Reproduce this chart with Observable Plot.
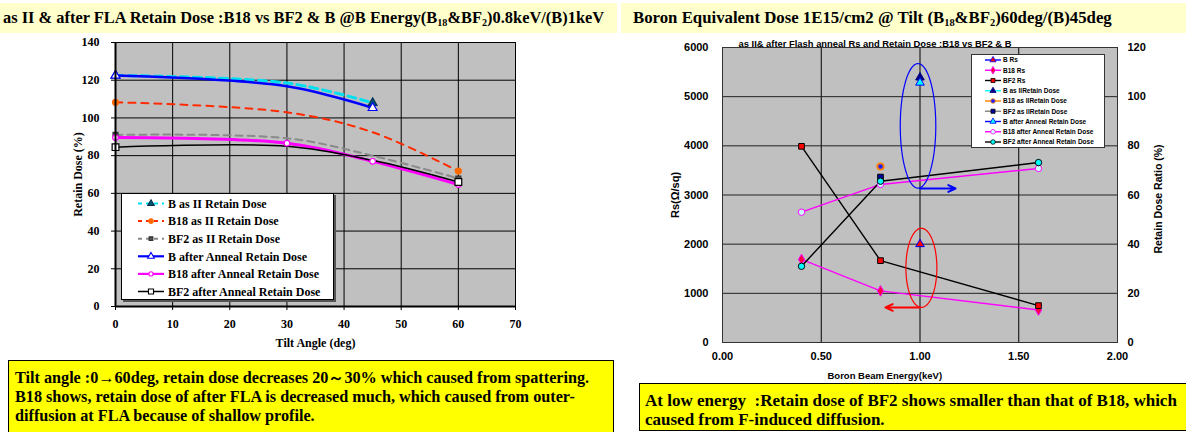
<!DOCTYPE html>
<html><head><meta charset="utf-8">
<script src="https://cdn.jsdelivr.net/npm/d3@7"></script>
<script src="https://cdn.jsdelivr.net/npm/@observablehq/plot@0.6"></script>
<style>
body{margin:0;background:#fff;}
#page{position:relative;width:1186px;height:432px;overflow:hidden;background:#fff;font-family:"Liberation Serif",serif;}
.abs{position:absolute;}
.banner{position:absolute;background:#ffffcc;font-weight:bold;white-space:nowrap;color:#000;}
.banner sub{font-size:62%;vertical-align:-3px;line-height:0;}
.box{position:absolute;background:#ffff00;border:1px solid #000;font-weight:bold;white-space:nowrap;color:#000;box-sizing:border-box;}
</style></head><body><div id="page"></div>
<script>
// ---------------- LEFT CHART DATA ----------------
const tiltAngles = [0, 30, 45, 60];
const tiltTicks = [0, 10, 20, 30, 40, 50, 60, 70];
const doseTicks = [0, 20, 40, 60, 80, 100, 120, 140];
const leftNames = ["B as II Retain Dose", "B18 as II Retain Dose", "BF2 as II Retain Dose",
  "B after Anneal Retain Dose", "B18 after Anneal Retain Dose", "BF2 after Anneal Retain Dose"];
const bAsII    = [122.5, 118.5, 108.0];
const b18AsII  = [108.3, 103.0, 92.4, 71.8];
const bf2AsII  = [91.0, 89.2, 80.0, 67.9];
const bAfter   = [122.5, 116.8, 105.3];
const b18After = [89.6, 86.6, 77.0, 64.7];
const bf2After = [84.5, 85.0, 77.5, 66.0];
const leftValues = [bAsII, b18AsII, bf2AsII, bAfter, b18After, bf2After];

// ---------------- RIGHT CHART DATA ----------------
const energyTicks = [0, 0.5, 1.0, 1.5, 2.0];
const rsTicks = [0, 1000, 2000, 3000, 4000, 5000, 6000];
const ratioTicks = [0, 20, 40, 60, 80, 100, 120];
const energyB = [1.0];
const energyCluster = [0.4, 0.8, 1.6];
const energyAsII = [0.8];
const rsB = [2000];
const rsB18 = [1690, 1050, 660];
const rsBF2 = [3990, 1665, 750];
const retAsIIB = [107.8];
const retAsIIB18 = [71.6];
const retAsIIBF2 = [67.3];
const retAfterB = [105.7];
const retAfterB18 = [53.0, 64.3, 70.8];
const retAfterBF2 = [31.0, 65.6, 73.2];
const rightNames = ["B Rs", "B18 Rs", "BF2 Rs", "B as IIRetain Dose", "B18 as IIRetain Dose", "BF2 as IIRetain Dose",
  "B after Anneal Retain Dose", "B18 after Anneal Retain Dose", "BF2 after Anneal Retain Dose"];
const rightX = [energyB, energyCluster, energyCluster, energyB, energyAsII, energyAsII, energyB, energyCluster, energyCluster];
const rightY = [rsB, rsB18, rsBF2, retAsIIB, retAsIIB18, retAsIIBF2, retAfterB, retAfterB18, retAfterBF2];
const rightAxis = ["rs", "rs", "rs", "ratio", "ratio", "ratio", "ratio", "ratio", "ratio"];
// annotations (data units): ellipses and arrows
const ellipseCx = [0.99, 1.007];
const ellipseCy = [4406, 1518];
const ellipseRx = [0.09, 0.0785];
const ellipseRy = [1268, 805];
const arrowX1 = [1.0, 1.0];
const arrowX2 = [1.18, 0.825];
const arrowY = [3132, 713];

// ---------------- STYLES ----------------
const leftStyles = [
  {line: "#00e0f0", width: 3, dash: "8,5", symbol: "triangle", fill: "#005a70", stroke: "#003050", r: 3.2, all: false},
  {line: "#ff2a00", width: 2, dash: "7,6", symbol: "circle", fill: "#ff6a00", stroke: "#ff6a00", r: 3, all: false},
  {line: "#8a8a8a", width: 2, dash: "7,5", symbol: "square", fill: "#505050", stroke: "#303030", r: 2.8, all: false},
  {line: "#0000ff", width: 2.5, dash: null, symbol: "triangle", fill: "#ffffff", stroke: "#0000ff", r: 3.3, all: false},
  {line: "#ff00ff", width: 3, dash: null, symbol: "circle", fill: "#ffffff", stroke: "#ff00ff", r: 2.8, all: true},
  {line: "#000000", width: 1.5, dash: null, symbol: "square", fill: "#ffffff", stroke: "#000000", r: 3.8, all: false}
];
const rightStyles = [
  {line: "#0000ff", symbol: "triangle", fill: "#ff0000", stroke: "#0000ff"},
  {line: "#ff00ff", symbol: "diamond", fill: "#ff0040", stroke: "#ff00ff"},
  {line: "#000000", symbol: "square", fill: "#ff0000", stroke: "#000000"},
  {line: "#00ffff", symbol: "triangle", fill: "#000080", stroke: "#000080"},
  {line: "#ff8000", symbol: "circle", fill: "#2020ff", stroke: "#ff8000"},
  {line: "#808080", symbol: "square", fill: "#0000a0", stroke: "#000000"},
  {line: "#0000ff", symbol: "triangle", fill: "#00ffff", stroke: "#0000ff"},
  {line: "#ff00ff", symbol: "circle", fill: "#ccffff", stroke: "#ff00ff"},
  {line: "#000000", symbol: "circle", fill: "#00ffff", stroke: "#000000"}
];
const ellipseColors = ["#0000ff", "#ff0000"];

const page = d3.select("#page");

// ---------------- LEFT PLOT ----------------
const leftMarks = [
  Plot.frame({fill: "#c0c0c0", stroke: "#8a8a8a"}),
  Plot.gridX(tiltTicks, {stroke: "#000", strokeOpacity: 1}),
  Plot.gridY(doseTicks, {stroke: "#000", strokeOpacity: 1})
];
const leftRows = leftValues.map(vals => vals.map((v, i) => ({x: tiltAngles[i], y: v})));
leftRows.forEach((rows, s) => {
  const st = leftStyles[s];
  leftMarks.push(Plot.line(rows, {x: "x", y: "y", stroke: st.line, strokeWidth: st.width,
    strokeDasharray: st.dash || undefined, curve: "catmull-rom"}));
});
leftRows.forEach((rows, s) => {
  const st = leftStyles[s];
  const pts = st.all ? rows : [rows[0], rows[rows.length - 1]];
  leftMarks.push(Plot.dot(pts, {x: "x", y: "y", symbol: st.symbol, r: st.r, fill: st.fill, stroke: st.stroke, strokeWidth: 1.2}));
});
leftMarks.push(
  Plot.ruleX([0], {stroke: "#000", strokeWidth: 2}),
  Plot.ruleY([0], {stroke: "#000", strokeWidth: 2}),
  Plot.axisX({ticks: tiltTicks, tickSize: 4, tickPadding: 9, label: "Tilt Angle (deg)", labelAnchor: "center", labelArrow: "none", labelOffset: 40}),
  Plot.axisY({ticks: doseTicks, tickSize: 4, tickPadding: 12, label: "Retain Dose (%)", labelAnchor: "center", labelArrow: "none", labelOffset: 42})
);
const leftPlot = Plot.plot({
  width: 560, height: 360,
  marginLeft: 115, marginRight: 45, marginTop: 42, marginBottom: 54,
  style: {background: "transparent", fontFamily: "'Liberation Serif', serif", fontWeight: "bold", fontSize: "12px", color: "#000"},
  x: {domain: [0, 70]},
  y: {domain: [0, 140]},
  marks: leftMarks
});
page.append("div").attr("class", "abs").style("left", "0px").style("top", "0px").node().appendChild(leftPlot);

// ---------------- RIGHT PLOT ----------------
const k = rsTicks[rsTicks.length - 1] / ratioTicks[ratioTicks.length - 1];
const rightMarks = [
  Plot.frame({fill: "#c0c0c0"}),
  Plot.gridX(energyTicks.slice(1, -1), {stroke: "#000", strokeOpacity: 1}),
  Plot.gridY(rsTicks.slice(1, -1), {stroke: "#222", strokeOpacity: 1})
];
const rightRows = rightY.map((vals, s) => vals.map((v, i) => ({x: rightX[s][i], y: rightAxis[s] === "rs" ? v : v * k})));
rightRows.forEach((rows, s) => {
  if (rows.length > 1) rightMarks.push(Plot.line(rows, {x: "x", y: "y", stroke: rightStyles[s].line, strokeWidth: 1.4}));
});
// ellipses & arrows
ellipseCx.forEach((cx, i) => {
  const pts = d3.range(0, 73).map(j => {
    const t = j / 72 * 2 * Math.PI;
    return {x: cx + ellipseRx[i] * Math.cos(t), y: ellipseCy[i] + ellipseRy[i] * Math.sin(t)};
  });
  rightMarks.push(Plot.line(pts, {x: "x", y: "y", stroke: ellipseColors[i], strokeWidth: 1.2}));
});
rightMarks.push(Plot.arrow(arrowX1.map((x1, i) => ({x1, x2: arrowX2[i], y: arrowY[i], c: ellipseColors[i]})),
  {x1: "x1", x2: "x2", y1: "y", y2: "y", stroke: "c", strokeWidth: 2, headLength: 6, headAngle: 50}));
rightRows.forEach((rows, s) => {
  const st = rightStyles[s];
  rightMarks.push(Plot.dot(rows, {x: "x", y: "y", symbol: st.symbol, r: 3.2, fill: st.fill, stroke: st.stroke, strokeWidth: s === 4 ? 1.8 : 1}));
});
rightMarks.push(
  Plot.frame({stroke: "#333"}),
  Plot.axisX({ticks: energyTicks, tickFormat: d3.format(".2f"), tickSize: 0, tickPadding: 10, label: null}),
  Plot.axisY({ticks: rsTicks, tickFormat: d3.format("d"), tickSize: 0, tickPadding: 14, label: null}),
  Plot.axisY({anchor: "right", ticks: ratioTicks.map(v => v * k), tickFormat: v => d3.format("d")(v / k), tickSize: 0, tickPadding: 10, label: null}),
  Plot.text(["as II& after Flash anneal Rs and Retain Dose :B18 vs BF2 & B"], {frameAnchor: "top-left", dx: 16, dy: -7, textAnchor: "start", fontSize: 9.4}),
  Plot.text(["Boron Beam Energy(keV)"], {frameAnchor: "bottom-left", dx: 105, dy: 36, textAnchor: "start", fontSize: 9.5}),
  Plot.text(["Rs(Ω/sq)"], {frameAnchor: "left", dx: -47, rotate: -90, textAnchor: "middle", fontSize: 11}),
  Plot.text(["Retain Dose Ratio (%)"], {frameAnchor: "right", dx: 41, dy: 4, rotate: -90, textAnchor: "middle", fontSize: 10.5})
);
const rightPlot = Plot.plot({
  width: 586, height: 392,
  marginLeft: 122, marginRight: 69, marginTop: 47, marginBottom: 50,
  style: {background: "transparent", fontFamily: "'Liberation Sans', sans-serif", fontWeight: "bold", fontSize: "11px", color: "#000"},
  x: {domain: [0, 2]},
  y: {domain: [0, 6000]},
  marks: rightMarks
});
page.append("div").attr("class", "abs").style("left", "600px").style("top", "0px").node().appendChild(rightPlot);

// ---------------- LEGENDS ----------------
function symbolPath(name, r) {
  const t = {triangle: d3.symbolTriangle, circle: d3.symbolCircle, square: d3.symbolSquare, diamond: d3.symbolDiamond}[name];
  return d3.symbol(t, Math.PI * r * r)();
}
{
  const box = page.append("div").attr("class", "abs")
    .style("left", "121px").style("top", "193px").style("width", "211px").style("height", "105px")
    .style("background", "#fff").style("border", "1px solid #000").style("box-shadow", "2px 2px 0 #555");
  const svg = box.append("svg").attr("width", 211).attr("height", 105);
  leftNames.forEach((n, i) => {
    const st = leftStyles[i], y = 9.5 + i * 17.6;
    svg.append("line").attr("x1", 16).attr("x2", 42).attr("y1", y).attr("y2", y)
      .attr("stroke", st.line).attr("stroke-width", Math.min(st.width, 2.2)).attr("stroke-dasharray", st.dash ? "4,4" : null);
    svg.append("path").attr("d", symbolPath(st.symbol, st.r * 0.75)).attr("transform", `translate(29,${y})`)
      .attr("fill", st.fill).attr("stroke", st.stroke).attr("stroke-width", 1.1);
    svg.append("text").attr("x", 46).attr("y", y).attr("dy", "0.35em").text(n)
      .attr("font-family", "'Liberation Serif', serif").attr("font-weight", "bold").attr("font-size", "12px");
  });
}
{
  const box = page.append("div").attr("class", "abs")
    .style("left", "971px").style("top", "54px").style("width", "132px").style("height", "92px")
    .style("background", "#fff").style("border", "1px solid #333");
  const svg = box.append("svg").attr("width", 132).attr("height", 92);
  rightNames.forEach((n, i) => {
    const st = rightStyles[i], y = 5 + i * 10.25;
    svg.append("line").attr("x1", 13).attr("x2", 29).attr("y1", y).attr("y2", y).attr("stroke", st.line).attr("stroke-width", 1.4);
    svg.append("path").attr("d", symbolPath(st.symbol, 2.3)).attr("transform", `translate(21,${y})`)
      .attr("fill", st.fill).attr("stroke", st.stroke).attr("stroke-width", 0.8);
    svg.append("text").attr("x", 31).attr("y", y).attr("dy", "0.35em").text(n)
      .attr("font-family", "'Liberation Sans', sans-serif").attr("font-weight", "bold").attr("font-size", "6.5px");
  });
}

// ---------------- BANNERS & TEXT BOXES ----------------
page.append("div").attr("class", "banner")
  .style("left", "0px").style("top", "3px").style("width", "614px").style("height", "30px")
  .style("font-size", "16.4px").style("line-height", "30px").style("padding-left", "3px")
  .html("as II &amp; after FLA Retain Dose :B18 vs BF2 &amp; B @B Energy(B<sub>18</sub>&amp;BF<sub>2</sub>)0.8keV/(B)1keV");
page.append("div").attr("class", "banner")
  .style("left", "621px").style("top", "3px").style("width", "553px").style("height", "30px")
  .style("font-size", "16.8px").style("line-height", "30px").style("padding-left", "12px")
  .html("Boron Equivalent Dose 1E15/cm2 @ Tilt (B<sub>18</sub>&amp;BF<sub>2</sub>)60deg/(B)45deg");
page.append("div").attr("class", "box")
  .style("left", "8px").style("top", "360px").style("width", "606px").style("height", "80px")
  .style("font-size", "16.2px").style("line-height", "19px").style("padding", "8px 0 0 6px")
  .html("Tilt angle :0→60deg, retain dose decreases 20～30% which caused from spattering.<br>B18 shows, retain dose of after FLA is decreased much, which caused from outer-<br>diffusion at FLA because of shallow profile.");
page.append("div").attr("class", "box")
  .style("left", "639px").style("top", "383px").style("width", "560px").style("height", "48px")
  .style("font-size", "17px").style("line-height", "18.5px").style("padding", "8px 0 0 5px")
  .html("At low energy&nbsp;&nbsp;:Retain dose of BF2 shows smaller than that of B18, which<br>caused from F-induced diffusion.");
</script>
</body></html>
